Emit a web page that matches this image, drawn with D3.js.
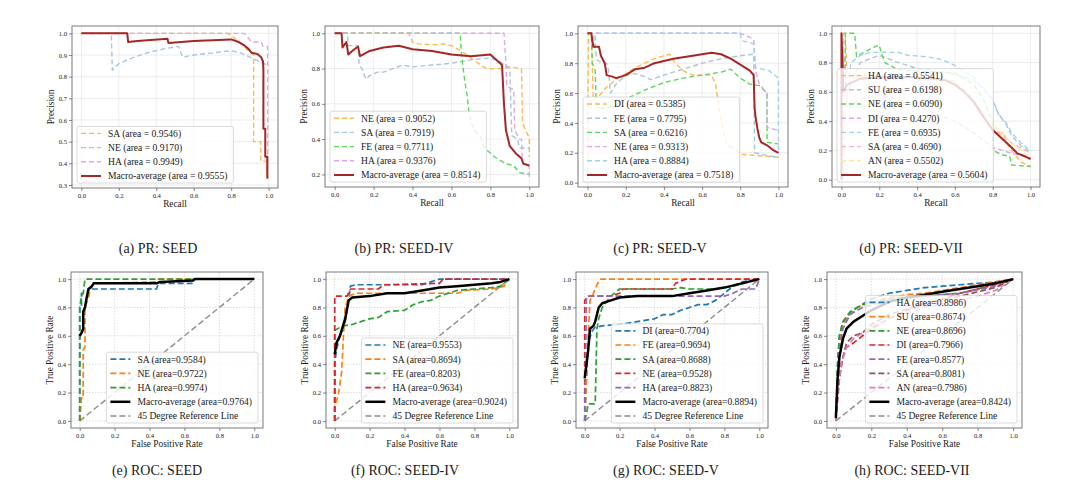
<!DOCTYPE html>
<html>
<head>
<meta charset="utf-8">
<title>PR and ROC curves</title>
<script src="https://cdn.jsdelivr.net/npm/d3@7"></script>
<style>
  body { margin: 0; background: #fff; }
  svg text { font-family: "Liberation Serif", "Times New Roman", serif; fill: #1a1a1a; }
</style>
</head>
<body>
<div id="container"></div>
<script>
// ---- tick values ----
const unitTicks = [0, 0.2, 0.4, 0.6, 0.8, 1.0];
const prSeedYTicks = [0.3, 0.4, 0.5, 0.6, 0.7, 0.8, 0.9, 1.0];
const prIVYTicks = [0.2, 0.4, 0.6, 0.8, 1.0];

// ---- (a) PR: SEED ----
const prSeedNames = ['SA', 'NE', 'HA', 'Macro-average'];
const prSeedAreas = [0.9546, 0.9170, 0.9949, 0.9555];
const prSeedCurves = [
  [[0,1],[0.78,1],[0.8,0.99],[0.83,0.97],[0.86,0.95],[0.89,0.92],[0.92,0.9],[0.92,0.5],[0.958,0.5],[0.958,0.41],[0.988,0.41],[0.995,0.32]],
  [[0,1],[0.16,1],[0.165,0.83],[0.2,0.86],[0.25,0.88],[0.3,0.895],[0.35,0.91],[0.4,0.92],[0.45,0.93],[0.52,0.94],[0.54,0.89],[0.6,0.9],[0.7,0.91],[0.8,0.92],[0.85,0.91],[0.9,0.89],[0.95,0.87],[0.99,0.855]],
  [[0,1],[0.87,1],[0.89,0.98],[0.91,0.96],[0.96,0.96],[0.97,0.94],[0.995,0.94],[0.995,0.42]],
  [[0,1],[0.245,1],[0.25,0.96],[0.3,0.965],[0.46,0.975],[0.465,0.955],[0.6,0.965],[0.8,0.972],[0.84,0.96],[0.87,0.945],[0.89,0.93],[0.91,0.91],[0.94,0.905],[0.96,0.89],[0.97,0.87],[0.972,0.83],[0.972,0.56],[0.982,0.56],[0.982,0.43],[0.993,0.43],[0.993,0.33]]
];

// ---- (b) PR: SEED-IV ----
const prIVNames = ['NE', 'SA', 'FE', 'HA', 'Macro-average'];
const prIVAreas = [0.9052, 0.7919, 0.7711, 0.9376, 0.8514];
const prIVCurves = [
  [[0,1],[0.38,1],[0.4,0.95],[0.43,0.94],[0.5,0.935],[0.56,0.94],[0.6,0.93],[0.65,0.9],[0.7,0.86],[0.75,0.82],[0.78,0.8],[0.85,0.8],[0.9,0.81],[0.96,0.8],[0.965,0.5],[0.98,0.45],[1.0,0.41],[1.0,0.3]],
  [[0,1],[0.065,1],[0.07,0.93],[0.12,0.93],[0.125,0.82],[0.14,0.8],[0.16,0.74],[0.18,0.76],[0.22,0.78],[0.25,0.78],[0.3,0.8],[0.35,0.82],[0.4,0.81],[0.5,0.82],[0.6,0.83],[0.7,0.85],[0.8,0.86],[0.85,0.84],[0.9,0.8],[0.905,0.6],[0.91,0.42],[0.94,0.4],[0.95,0.35],[1.0,0.35]],
  [[0,1],[0.645,1],[0.65,0.9],[0.66,0.8],[0.67,0.72],[0.68,0.65],[0.69,0.55],[0.7,0.5],[0.72,0.45],[0.75,0.41],[0.77,0.35],[0.8,0.32],[0.82,0.3],[0.85,0.28],[0.88,0.26],[0.92,0.25],[0.95,0.21],[1,0.2]],
  [[0,1],[0.87,1],[0.88,0.83],[0.885,0.7],[0.92,0.68],[0.925,0.45],[0.95,0.4],[0.96,0.4],[0.965,0.27],[0.98,0.25],[1.0,0.25],[1.0,0.17]],
  [[0,1],[0.035,1],[0.04,0.92],[0.06,0.95],[0.07,0.88],[0.09,0.9],[0.12,0.925],[0.13,0.87],[0.18,0.9],[0.25,0.92],[0.33,0.93],[0.4,0.91],[0.5,0.9],[0.6,0.88],[0.7,0.87],[0.8,0.88],[0.82,0.86],[0.86,0.82],[0.87,0.6],[0.88,0.45],[0.9,0.36],[0.93,0.32],[0.96,0.29],[0.97,0.26],[1.0,0.25]]
];

// ---- (c) PR: SEED-V ----
const prVNames = ['DI', 'FE', 'SA', 'NE', 'HA', 'Macro-average'];
const prVAreas = [0.5385, 0.7795, 0.6216, 0.9313, 0.8884, 0.7518];
const prVCurves = [
  [[0,0.02],[0.005,1],[0.02,1],[0.03,0.55],[0.06,0.58],[0.1,0.64],[0.15,0.69],[0.2,0.73],[0.25,0.77],[0.3,0.8],[0.35,0.83],[0.4,0.85],[0.43,0.86],[0.46,0.8],[0.5,0.75],[0.55,0.72],[0.65,0.72],[0.67,0.66],[0.69,0.5],[0.71,0.35],[0.73,0.25],[0.77,0.23],[0.8,0.19],[0.9,0.18],[1,0.17]],
  [[0,1],[0.03,1],[0.04,0.9],[0.05,0.82],[0.08,0.8],[0.1,0.8],[0.11,0.75],[0.12,0.6],[0.15,0.66],[0.2,0.72],[0.25,0.73],[0.3,0.71],[0.33,0.69],[0.4,0.72],[0.5,0.76],[0.6,0.8],[0.7,0.83],[0.8,0.85],[0.87,0.86],[0.875,0.2],[0.95,0.18],[1,0.17]],
  [[0,1],[0.02,1],[0.025,0.8],[0.04,0.75],[0.045,0.55],[0.06,0.5],[0.1,0.5],[0.15,0.52],[0.2,0.56],[0.3,0.62],[0.4,0.67],[0.5,0.7],[0.6,0.72],[0.7,0.74],[0.75,0.76],[0.8,0.7],[0.85,0.66],[0.9,0.65],[0.94,0.6],[0.94,0.27],[1,0.26]],
  [[0,1],[0.8,1],[0.84,0.98],[0.87,0.96],[0.88,0.75],[0.9,0.66],[0.94,0.6],[0.94,0.37],[1,0.35]],
  [[0.04,0.9],[0.04,1],[0.8,1],[0.81,0.95],[0.87,0.93],[0.88,0.77],[0.95,0.75],[1.0,0.7],[1.0,0.2]],
  [[0,1],[0.02,1],[0.03,0.91],[0.06,0.91],[0.07,0.85],[0.09,0.8],[0.1,0.72],[0.13,0.71],[0.15,0.7],[0.2,0.72],[0.25,0.76],[0.3,0.77],[0.35,0.8],[0.45,0.83],[0.55,0.85],[0.65,0.87],[0.7,0.86],[0.75,0.83],[0.8,0.79],[0.85,0.75],[0.87,0.72],[0.875,0.5],[0.88,0.44],[0.89,0.36],[0.9,0.3],[0.91,0.27],[0.94,0.25],[0.97,0.22],[1,0.2]]
];

// ---- (d) PR: SEED-VII ----
const prVIINames = ['HA', 'SU', 'NE', 'DI', 'FE', 'SA', 'AN', 'Macro-average'];
const prVIIAreas = [0.5541, 0.6198, 0.6090, 0.4270, 0.6935, 0.4690, 0.5502, 0.5604];
const prVIICurves = [
  [[0.01,0.0],[0.01,1],[0.02,1],[0.03,0.7],[0.1,0.72],[0.2,0.7],[0.4,0.7],[0.55,0.68],[0.65,0.6],[0.72,0.5],[0.77,0.4],[0.8,0.33],[0.86,0.32],[0.87,0.26],[0.9,0.2],[0.95,0.12],[1,0.09]],
  [[0,1],[0.03,0.6],[0.1,0.8],[0.2,0.85],[0.3,0.8],[0.4,0.76],[0.5,0.74],[0.6,0.72],[0.7,0.68],[0.75,0.62],[0.8,0.55],[0.83,0.45],[0.87,0.38],[0.9,0.3],[0.95,0.23],[1,0.19]],
  [[0.02,0.7],[0.02,1],[0.07,1],[0.08,0.84],[0.12,0.87],[0.18,0.91],[0.2,0.92],[0.21,0.87],[0.23,0.8],[0.3,0.75],[0.45,0.74],[0.6,0.73],[0.7,0.65],[0.75,0.55],[0.8,0.4],[0.8,0.2],[0.85,0.17],[0.89,0.16],[0.9,0.1],[1,0.09]],
  [[0,1],[0.03,0.5],[0.1,0.55],[0.2,0.58],[0.3,0.55],[0.4,0.5],[0.5,0.45],[0.6,0.4],[0.7,0.32],[0.8,0.22],[0.9,0.18],[1,0.15]],
  [[0.04,0.7],[0.05,0.8],[0.1,0.85],[0.15,0.87],[0.3,0.87],[0.35,0.85],[0.45,0.84],[0.5,0.83],[0.55,0.81],[0.6,0.78],[0.65,0.74],[0.7,0.7],[0.75,0.63],[0.8,0.54],[0.83,0.45],[0.87,0.39],[0.9,0.32],[0.95,0.25],[1,0.2]],
  [[0.02,0.5],[0.05,0.7],[0.1,0.7],[0.3,0.68],[0.5,0.68],[0.6,0.67],[0.7,0.55],[0.8,0.35],[0.85,0.3],[0.9,0.25],[1,0.18]],
  [[0.02,0.3],[0.05,0.55],[0.1,0.6],[0.3,0.62],[0.5,0.65],[0.6,0.68],[0.7,0.62],[0.75,0.5],[0.8,0.38],[0.9,0.25],[1,0.15]],
  [[0,0.0],[0,1],[0.01,0.6],[0.03,0.65],[0.1,0.69],[0.2,0.7],[0.4,0.7],[0.5,0.69],[0.55,0.68],[0.6,0.65],[0.65,0.6],[0.7,0.53],[0.75,0.43],[0.8,0.34],[0.85,0.28],[0.9,0.22],[0.93,0.18],[0.97,0.16],[1,0.14]]
];

// ---- (e) ROC: SEED ----
const rocSeedNames = ['SA', 'NE', 'HA', 'Macro-average'];
const rocSeedAreas = [0.9584, 0.9722, 0.9974, 0.9764];
const rocSeedCurves = [
  [[0,0],[0,0.8],[0.01,0.8],[0.01,0.9],[0.05,0.9],[0.05,0.93],[0.44,0.93],[0.45,0.97],[0.65,0.97],[0.65,1],[1,1]],
  [[0,0],[0.01,0.16],[0.02,0.16],[0.02,0.5],[0.03,0.52],[0.03,0.8],[0.05,0.87],[0.06,0.93],[0.08,0.97],[0.44,0.98],[0.45,1],[1,1]],
  [[0,0],[0,0.8],[0.01,0.88],[0.02,0.9],[0.03,1],[1,1]],
  [[0,0.6],[0.01,0.62],[0.02,0.65],[0.02,0.77],[0.03,0.8],[0.04,0.87],[0.05,0.93],[0.07,0.95],[0.08,0.97],[0.44,0.97],[0.46,0.98],[0.65,0.99],[0.66,1],[1,1]]
];

// ---- (f) ROC: SEED-IV ----
const rocIVNames = ['NE', 'SA', 'FE', 'HA', 'Macro-average'];
const rocIVAreas = [0.9553, 0.8694, 0.8203, 0.9634, 0.9024];
const rocIVCurves = [
  [[0,0],[0,0.4],[0.01,0.5],[0.03,0.6],[0.06,0.7],[0.08,0.86],[0.09,0.95],[0.12,0.96],[0.5,0.96],[0.55,0.98],[0.6,1],[1,1]],
  [[0,0],[0,0.1],[0.02,0.18],[0.04,0.35],[0.05,0.6],[0.06,0.8],[0.08,0.88],[0.12,0.9],[0.7,0.9],[0.75,0.92],[0.9,0.93],[0.97,0.95],[1,1]],
  [[0,0],[0,0.64],[0.05,0.67],[0.1,0.68],[0.15,0.7],[0.2,0.72],[0.25,0.73],[0.3,0.77],[0.4,0.78],[0.45,0.82],[0.5,0.84],[0.55,0.85],[0.6,0.88],[0.7,0.92],[0.8,0.93],[0.9,0.94],[0.95,0.95],[1,1]],
  [[0,0],[0,0.88],[0.07,0.88],[0.09,0.93],[0.25,0.93],[0.28,0.96],[0.6,0.97],[0.62,1],[1,1]],
  [[0,0.47],[0.01,0.55],[0.03,0.6],[0.05,0.68],[0.06,0.72],[0.08,0.85],[0.1,0.87],[0.2,0.88],[0.3,0.9],[0.4,0.9],[0.5,0.92],[0.6,0.94],[0.7,0.95],[0.8,0.96],[0.9,0.97],[0.95,0.98],[1,1]]
];

// ---- (g) ROC: SEED-V ----
const rocVNames = ['DI', 'FE', 'SA', 'NE', 'HA', 'Macro-average'];
const rocVAreas = [0.7704, 0.9694, 0.8688, 0.9528, 0.8823, 0.8894];
const rocVCurves = [
  [[0,0],[0.01,0.3],[0.02,0.55],[0.04,0.63],[0.06,0.66],[0.1,0.67],[0.2,0.68],[0.3,0.7],[0.4,0.72],[0.45,0.75],[0.5,0.75],[0.55,0.78],[0.6,0.8],[0.65,0.82],[0.7,0.82],[0.75,0.85],[0.78,0.88],[0.8,0.9],[0.85,0.95],[0.9,0.98],[1,1]],
  [[0,0],[0.01,0.3],[0.02,0.6],[0.03,0.85],[0.05,0.9],[0.07,0.96],[0.09,1],[1,1]],
  [[0,0],[0.01,0.05],[0.02,0.12],[0.06,0.12],[0.07,0.65],[0.08,0.72],[0.1,0.8],[0.15,0.88],[0.2,0.93],[0.5,0.93],[0.55,0.94],[0.6,0.93],[0.75,0.93],[0.85,0.95],[1,1]],
  [[0,0],[0,0.85],[0.02,0.88],[0.15,0.88],[0.2,0.9],[0.22,0.93],[0.5,0.93],[0.52,0.97],[0.58,1],[1,1]],
  [[0,0],[0.01,0.87],[0.02,0.88],[0.8,0.88],[0.85,0.9],[0.9,0.93],[0.98,0.93],[1,1]],
  [[0,0.3],[0.01,0.4],[0.02,0.5],[0.03,0.65],[0.05,0.67],[0.06,0.7],[0.08,0.8],[0.1,0.83],[0.15,0.85],[0.2,0.87],[0.3,0.88],[0.5,0.88],[0.6,0.9],[0.7,0.92],[0.8,0.94],[0.9,0.97],[1,1]]
];

// ---- (h) ROC: SEED-VII ----
const rocVIINames = ['HA', 'SU', 'NE', 'DI', 'FE', 'SA', 'AN', 'Macro-average'];
const rocVIIAreas = [0.8986, 0.8674, 0.8696, 0.7966, 0.8577, 0.8081, 0.7986, 0.8424];
const rocVIICurves = [
  [[0,0],[0.01,0.4],[0.02,0.6],[0.04,0.7],[0.08,0.76],[0.12,0.8],[0.2,0.86],[0.3,0.9],[0.4,0.92],[0.5,0.94],[0.6,0.95],[0.7,0.96],[0.8,0.97],[0.9,0.98],[1,1]],
  [[0,0],[0.01,0.35],[0.02,0.55],[0.04,0.68],[0.08,0.75],[0.12,0.8],[0.2,0.84],[0.3,0.87],[0.4,0.89],[0.5,0.9],[0.6,0.92],[0.7,0.94],[0.8,0.96],[0.9,0.98],[1,1]],
  [[0,0],[0.01,0.4],[0.02,0.6],[0.04,0.7],[0.08,0.77],[0.15,0.82],[0.3,0.86],[0.5,0.88],[0.7,0.9],[0.8,0.93],[0.9,0.97],[1,1]],
  [[0,0],[0.01,0.15],[0.02,0.3],[0.04,0.45],[0.06,0.52],[0.1,0.55],[0.15,0.6],[0.2,0.65],[0.3,0.72],[0.4,0.78],[0.5,0.82],[0.6,0.86],[0.7,0.9],[0.8,0.93],[0.9,0.96],[1,1]],
  [[0,0],[0.01,0.3],[0.02,0.5],[0.04,0.65],[0.08,0.75],[0.15,0.8],[0.3,0.85],[0.5,0.88],[0.7,0.9],[0.9,0.95],[1,1]],
  [[0,0],[0.01,0.2],[0.03,0.4],[0.06,0.55],[0.1,0.6],[0.15,0.62],[0.2,0.68],[0.3,0.75],[0.5,0.83],[0.7,0.88],[0.9,0.94],[1,1]],
  [[0,0],[0.01,0.2],[0.03,0.4],[0.06,0.52],[0.1,0.58],[0.2,0.66],[0.3,0.72],[0.5,0.8],[0.7,0.85],[0.8,0.88],[0.9,0.92],[1,1]],
  [[0,0.02],[0.01,0.3],[0.02,0.45],[0.04,0.58],[0.06,0.65],[0.1,0.7],[0.15,0.74],[0.2,0.78],[0.3,0.84],[0.4,0.87],[0.5,0.89],[0.6,0.91],[0.7,0.93],[0.8,0.95],[0.9,0.97],[1,1]]
];

// ---- colours ----
const prOrange = '#ffb84d', prSteel = '#a9c5da', prPlum = '#dba8e8', prGreen = '#5cd65c',
      prSky = '#9dd3f0', prPink = '#f8b4c0', prYellow = '#fbe9a6', prMacro = '#a62626';
const tab = ['#1f77b4', '#ff7f0e', '#2ca02c', '#d62728', '#9467bd', '#8c564b', '#e377c2'];

const panels = [
  {kind: 'pr', left: 72, top: 26, w: 206, h: 162, names: prSeedNames, areas: prSeedAreas, curves: prSeedCurves,
   colors: [prOrange, prSteel, prPlum, prMacro], yTicks: prSeedYTicks, caption: '(a) PR: SEED', cx: 158, cy: 253},
  {kind: 'pr', left: 325, top: 26, w: 214, h: 161, names: prIVNames, areas: prIVAreas, curves: prIVCurves,
   colors: [prOrange, prSteel, prGreen, prPlum, prMacro], yTicks: prIVYTicks, caption: '(b) PR: SEED-IV', cx: 404, cy: 253},
  {kind: 'pr', left: 578, top: 26, w: 210, h: 161, names: prVNames, areas: prVAreas, curves: prVCurves,
   colors: [prOrange, prSteel, prGreen, prPlum, prSky, prMacro], yTicks: unitTicks, caption: '(c) PR: SEED-V', cx: 660, cy: 253},
  {kind: 'pr', left: 832, top: 26, w: 208, h: 161, names: prVIINames, areas: prVIIAreas, curves: prVIICurves,
   colors: [prOrange, prSteel, prGreen, prPlum, prSky, prPink, prYellow, prMacro], yTicks: unitTicks, caption: '(d) PR: SEED-VII', cx: 911, cy: 253},
  {kind: 'roc', left: 71, top: 272, w: 192, h: 156, names: rocSeedNames, areas: rocSeedAreas, curves: rocSeedCurves,
   colors: tab.slice(0, 3).concat(['#000']), yTicks: unitTicks, caption: '(e) ROC: SEED', cx: 157, cy: 475},
  {kind: 'roc', left: 326, top: 272, w: 192, h: 156, names: rocIVNames, areas: rocIVAreas, curves: rocIVCurves,
   colors: tab.slice(0, 4).concat(['#000']), yTicks: unitTicks, caption: '(f) ROC: SEED-IV', cx: 405, cy: 475},
  {kind: 'roc', left: 576, top: 272, w: 192, h: 156, names: rocVNames, areas: rocVAreas, curves: rocVCurves,
   colors: tab.slice(0, 5).concat(['#000']), yTicks: unitTicks, caption: '(g) ROC: SEED-V', cx: 666, cy: 475},
  {kind: 'roc', left: 827, top: 272, w: 195, h: 156, names: rocVIINames, areas: rocVIIAreas, curves: rocVIICurves,
   colors: tab.slice(0, 7).concat(['#000']), yTicks: unitTicks, caption: '(h) ROC: SEED-VII', cx: 912, cy: 475}
];

const svg = d3.select('#container').append('svg')
  .attr('width', 1080).attr('height', 504);

function drawPanel(p, idx) {
  const g = svg.append('g');
  const roc = p.kind === 'roc';
  const x = d3.scaleLinear().domain([-0.05, 1.05]).range([p.left, p.left + p.w]);
  let yDom = [-0.05, 1.05];
  if (!roc) {
    const ext = d3.extent(p.curves.flat(), d => d[1]);
    const pad = (ext[1] - ext[0]) * 0.05;
    yDom = [ext[0] - pad, ext[1] + pad];
  }
  const y = d3.scaleLinear().domain(yDom).range([p.top + p.h, p.top]);

  // grid
  const gridDash = roc ? '1.5,1.5' : null;
  const gridCol = roc ? '#cfcfcf' : '#e4e4e4';
  g.selectAll('.gx').data(unitTicks).join('line')
    .attr('x1', d => x(d)).attr('x2', d => x(d))
    .attr('y1', p.top).attr('y2', p.top + p.h)
    .attr('stroke', gridCol).attr('stroke-width', 0.7).attr('stroke-dasharray', gridDash);
  g.selectAll('.gy').data(p.yTicks).join('line')
    .attr('y1', d => y(d)).attr('y2', d => y(d))
    .attr('x1', p.left).attr('x2', p.left + p.w)
    .attr('stroke', gridCol).attr('stroke-width', 0.7).attr('stroke-dasharray', gridDash);

  const clipId = 'clip' + idx;
  g.append('clipPath').attr('id', clipId).append('rect')
    .attr('x', p.left).attr('y', p.top).attr('width', p.w).attr('height', p.h);

  const line = d3.line().x(d => x(d[0])).y(d => y(d[1]));
  const plot = g.append('g').attr('clip-path', `url(#${clipId})`);
  const nLast = p.curves.length - 1;
  const dashW = roc ? 1.7 : 1.4, macroW = roc ? 2.5 : 2, dashPat = roc ? '6,3' : '5,3';

  if (roc) {
    plot.append('path').attr('d', line([[0, 0], [1, 1]]))
      .attr('fill', 'none').attr('stroke', '#8c8c8c').attr('stroke-width', 1.4).attr('stroke-dasharray', dashPat);
  }
  p.curves.forEach((c, i) => {
    const isMacro = i === nLast;
    plot.append('path').attr('d', line(c))
      .attr('fill', 'none')
      .attr('stroke', p.colors[i])
      .attr('stroke-width', isMacro ? macroW : dashW)
      .attr('stroke-dasharray', isMacro ? null : dashPat)
      .attr('stroke-linejoin', 'round');
  });

  // frame
  g.append('rect').attr('x', p.left).attr('y', p.top).attr('width', p.w).attr('height', p.h)
    .attr('fill', 'none').attr('stroke', '#6a6a6a').attr('stroke-width', 0.9);

  // axes
  const fmt = d3.format('.1f');
  const xa = g.append('g').attr('transform', `translate(0,${p.top + p.h})`)
    .call(d3.axisBottom(x).tickValues(unitTicks).tickFormat(fmt).tickSize(3).tickPadding(2));
  const ya = g.append('g').attr('transform', `translate(${p.left},0)`)
    .call(d3.axisLeft(y).tickValues(p.yTicks).tickFormat(fmt).tickSize(3).tickPadding(2));
  [xa, ya].forEach(a => {
    a.select('.domain').remove();
    a.selectAll('line').attr('stroke', '#555').attr('stroke-width', 0.7);
    a.selectAll('text').attr('font-size', 6.6).attr('fill', '#333')
      .attr('font-family', '"Liberation Serif", serif');
  });

  // axis titles
  g.append('text').attr('x', p.left + p.w / 2).attr('y', p.top + p.h + 19)
    .attr('text-anchor', 'middle').attr('font-size', 9.3)
    .text(roc ? 'False Positive Rate' : 'Recall');
  g.append('text')
    .attr('transform', `translate(${p.left - 21},${p.top + p.h / 2}) rotate(-90)`)
    .attr('text-anchor', 'middle').attr('dominant-baseline', 'central').attr('font-size', 9.3)
    .text(roc ? 'True Positive Rate' : 'Precision');

  // legend
  const sep = roc ? '=' : ' = ';
  const labels = p.names.map((n, i) => `${n} (area${sep}${p.areas[i].toFixed(4)})`);
  const colors = p.colors.slice();
  const dashed = labels.map((l, i) => i !== nLast);
  if (roc) { labels.push('45 Degree Reference Line'); colors.push('#8c8c8c'); dashed.push(true); }

  const rowH = 14.2, fs = 9.6;
  const lg = g.append('g');
  const box = lg.append('rect');
  const texts = labels.map(l => lg.append('text').attr('font-size', fs).text(l));
  const maxW = d3.max(texts, t => t.node().getComputedTextLength());
  const bw = maxW + 37, bh = (labels.length - 1) * rowH + 14;
  const bx = roc ? p.left + p.w - 5 - bw : p.left + 5;
  const by = p.top + p.h - 5 - bh;
  box.attr('x', bx).attr('y', by).attr('width', bw).attr('height', bh).attr('rx', 2)
    .attr('fill', '#fff').attr('fill-opacity', 0.8).attr('stroke', '#d0d0d0').attr('stroke-width', 0.8);
  labels.forEach((l, i) => {
    const cy = by + 7 + i * rowH;
    lg.insert('line', 'text').attr('x1', bx + 4).attr('x2', bx + 24).attr('y1', cy).attr('y2', cy)
      .attr('stroke', colors[i]).attr('stroke-width', dashed[i] ? dashW : macroW)
      .attr('stroke-dasharray', dashed[i] ? dashPat : null);
    texts[i].attr('x', bx + 31).attr('y', cy + 3.3);
  });

  // caption
  svg.append('text').attr('x', p.cx).attr('y', p.cy).attr('text-anchor', 'middle')
    .attr('font-size', 14).text(p.caption);
}

panels.forEach(drawPanel);
</script>
</body>
</html>
